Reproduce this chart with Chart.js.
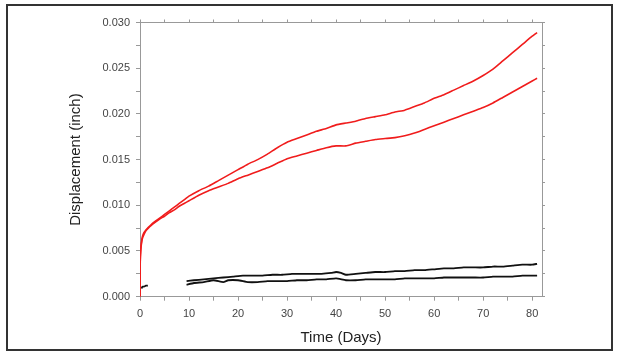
<!DOCTYPE html>
<html><head><meta charset="utf-8">
<script src="https://cdn.jsdelivr.net/npm/chart.js@4"></script>
<style>html,body{margin:0;padding:0;background:#fff;}canvas{display:block;}</style>
</head><body>
<canvas id="c" width="618" height="357"></canvas>
<script>
// Time in days
const redDays = [0,0.05,0.15,0.3,0.5,0.8,1.2,1.7,2.3,3,4,5,6,7,8,9,10,12,14,16,18,20,22,24,26,28,30,32,34,36,38,40,42,44,46,48,50,52,54,56,58,60,62,64,66,68,70,72,74,76,78,80,81];
const redUpper = [0,0.0040,0.0052,0.0060,0.0066,0.0070,0.0073,0.0076,0.0079,0.0082,0.0086,0.0090,0.0094,0.0098,0.0102,0.0106,0.0110,0.0116,0.0121,0.0127,0.0133,0.0139,0.0145,0.0150,0.0156,0.0163,0.0169,0.0173,0.0177,0.0181,0.0184,0.0188,0.0190,0.0192,0.0195,0.0197,0.0199,0.0202,0.0204,0.0208,0.0212,0.0217,0.0221,0.0226,0.0231,0.0236,0.0242,0.0249,0.0258,0.0267,0.0276,0.0285,0.0289];
const redLower = [0,0.0038,0.0050,0.0058,0.0064,0.0068,0.0072,0.0075,0.0078,0.0081,0.0085,0.0088,0.0092,0.0095,0.0099,0.0102,0.0105,0.0111,0.0116,0.0120,0.0124,0.0129,0.0133,0.0137,0.0141,0.0146,0.0151,0.0154,0.0157,0.0160,0.0163,0.0165,0.0165,0.0168,0.0170,0.0172,0.0173,0.0174,0.0176,0.0179,0.0183,0.0187,0.0191,0.0195,0.0199,0.0203,0.0207,0.0212,0.0218,0.0224,0.0230,0.0236,0.0239];
const blackStartDays = [0.3,0.5,0.8,1.2,1.6];
const blackStart = [0.0009,0.0011,0.0011,0.0012,0.0012];
const blackUpperDays = [9.5,11,13,15,17,19,21,23,25,27,29,31,33,35,37,39,40,41,42,44,46,48,50,52,54,56,58,60,62,64,66,68,70,72,74,76,78,80,81];
const blackUpper = [0.0017,0.0018,0.0019,0.0020,0.0021,0.0022,0.0023,0.0023,0.0023,0.0024,0.0024,0.0025,0.0025,0.0025,0.0025,0.0026,0.0027,0.0026,0.0024,0.0025,0.0026,0.0027,0.0027,0.0028,0.0028,0.0029,0.0029,0.0030,0.0031,0.0031,0.0032,0.0032,0.0032,0.0033,0.0033,0.0034,0.0035,0.0035,0.0036];
const blackLowerDays = [9.5,11,13,15,17,18,20,22,24,26,28,30,32,34,36,38,40,42,44,46,48,50,52,54,56,58,60,62,64,66,68,70,72,74,76,78,80,81];
const blackLower = [0.0013,0.0015,0.0016,0.0018,0.0016,0.0018,0.0018,0.0016,0.0016,0.0017,0.0017,0.0017,0.0018,0.0018,0.0019,0.0019,0.0020,0.0018,0.0018,0.0019,0.0019,0.0019,0.0019,0.0020,0.0020,0.0020,0.0020,0.0021,0.0021,0.0021,0.0021,0.0021,0.0022,0.0022,0.0022,0.0023,0.0023,0.0023];
const xTicks = [0,5,10,15,20,25,30,35,40,45,50,55,60,65,70,75,80];
const yTicks = [0,0.0025,0.005,0.0075,0.010,0.0125,0.015,0.0175,0.020,0.0225,0.025,0.0275,0.030];
const xTitle = 'Time (Days)';
const yTitle = 'Displacement (inch)';

const pts = (xs, ys) => xs.map((x, i) => ({x: x, y: ys[i]}));
const mk = (xs, ys, color, w) => ({data: pts(xs, ys), borderColor: color, borderWidth: w, showLine: true, pointRadius: 0, fill: false, tension: 0.15});

const frame = {
  id: 'frame',
  beforeDraw(chart) {
    const ctx = chart.ctx;
    ctx.save();
    ctx.fillStyle = '#fff';
    ctx.fillRect(0, 0, chart.width, chart.height);
    ctx.strokeStyle = '#333';
    ctx.lineWidth = 2;
    ctx.strokeRect(7, 5, 605, 345);
    ctx.restore();
  }
};

const axisColor = '#999';
const setTicks = arr => scale => { scale.ticks = arr.map(v => ({value: v})); };

new Chart(document.getElementById('c'), {
  type: 'scatter',
  data: { datasets: [
    mk(redDays, redUpper, '#f01c1c', 1.6),
    mk(redDays, redLower, '#f01c1c', 1.6),
    mk(blackStartDays, blackStart, '#111', 1.8),
    mk(blackUpperDays, blackUpper, '#111', 1.8),
    mk(blackLowerDays, blackLower, '#111', 1.8)
  ]},
  options: {
    responsive: false, animation: false,
    layout: {padding: 0},
    plugins: {legend: {display: false}, tooltip: {enabled: false}},
    scales: {
      x: {
        type: 'linear', position: 'bottom', min: 0, max: 82,
        afterBuildTicks: setTicks(xTicks),
        afterFit: s => { s.height = 60.3; },
        border: {color: axisColor, width: 1},
        grid: {drawOnChartArea: false, tickLength: 4, color: axisColor},
        ticks: {padding: 7, color: '#444', font: {family: 'Liberation Sans', size: 11},
          maxRotation: 0, autoSkip: false,
          callback: v => (v % 10 === 0 ? String(v) : '')},
        title: {display: true, text: xTitle, color: '#222', font: {family: 'Liberation Sans', size: 15}, padding: {top: 0, bottom: 10}}
      },
      x2: {
        type: 'linear', position: 'top', min: 0, max: 82,
        afterBuildTicks: setTicks(xTicks),
        afterFit: s => { s.height = 22.5; },
        border: {color: axisColor, width: 1},
        grid: {drawOnChartArea: false, tickLength: 3, color: axisColor},
        ticks: {display: false}
      },
      y: {
        type: 'linear', position: 'left', min: 0, max: 0.030,
        afterBuildTicks: setTicks(yTicks),
        afterFit: s => { s.width = 140; },
        border: {color: axisColor, width: 1},
        grid: {drawOnChartArea: false, tickLength: 4, color: axisColor},
        ticks: {padding: 6, color: '#444', font: {family: 'Liberation Sans', size: 11}, autoSkip: false,
          callback: v => (Math.round(v / 0.0025) % 2 === 0 ? v.toFixed(3) : '')},
        title: {display: true, text: yTitle, color: '#222', font: {family: 'Liberation Sans', size: 15}, padding: {top: 67, bottom: 0}}
      },
      y2: {
        type: 'linear', position: 'right', min: 0, max: 0.030,
        afterBuildTicks: setTicks(yTicks),
        afterFit: s => { s.width = 76; },
        border: {color: axisColor, width: 1},
        grid: {drawOnChartArea: false, tickLength: 3, color: axisColor},
        ticks: {display: false}
      }
    }
  },
  plugins: [frame]
});
</script>
</body></html>
